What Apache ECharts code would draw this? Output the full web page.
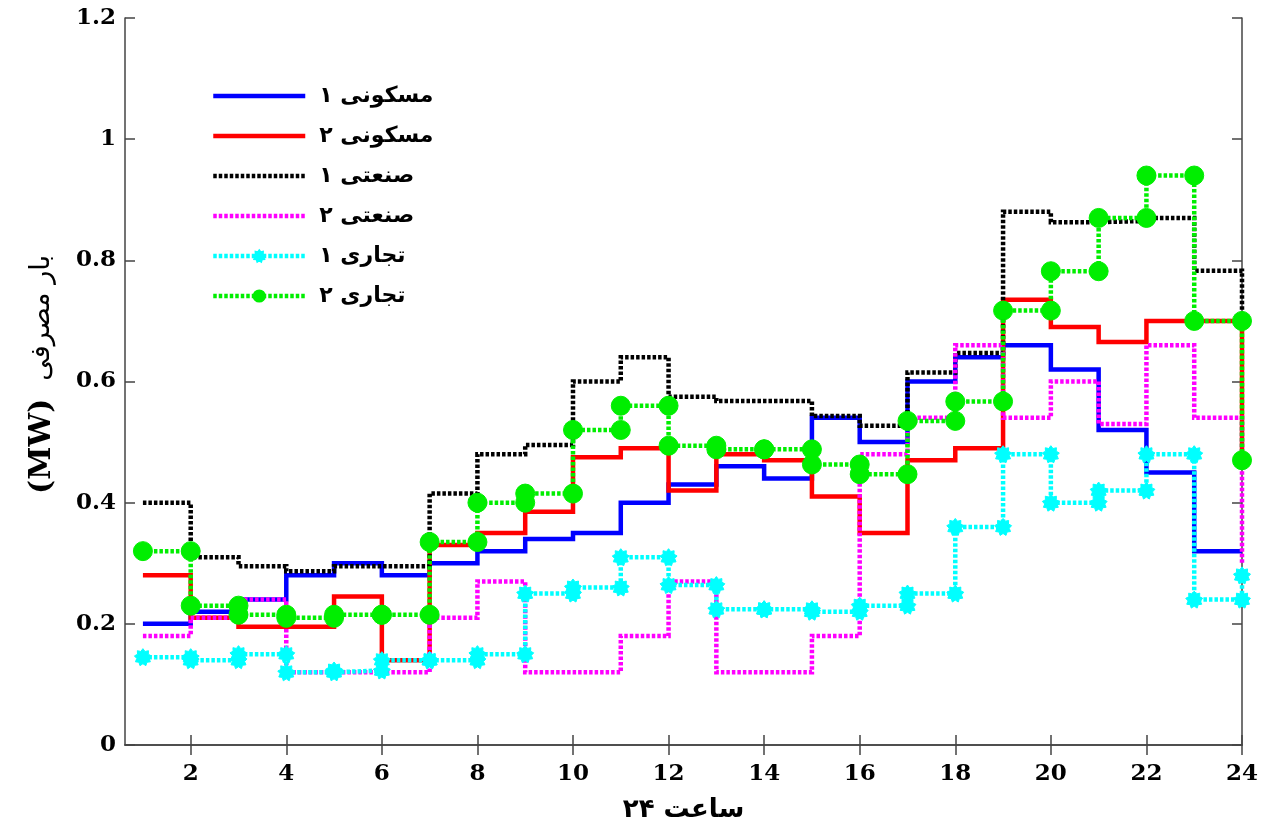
<!DOCTYPE html>
<html>
<head>
<meta charset="utf-8">
<script src="https://cdn.jsdelivr.net/npm/echarts@6/dist/echarts.min.js"></script>
<style>
html, body { margin: 0; padding: 0; background: #fff; }
#main { width: 1263px; height: 830px; }
</style>
</head>
<body>
<div id="main"></div>
<script>
var hours = [1, 2, 3, 4, 5, 6, 7, 8, 9, 10, 11, 12, 13, 14, 15, 16, 17, 18, 19, 20, 21, 22, 23, 24];
var xTicks = [2, 4, 6, 8, 10, 12, 14, 16, 18, 20, 22, 24];

var names = ['مسکونی ۱', 'مسکونی ۲', 'صنعتی ۱', 'صنعتی ۲', 'تجاری ۱', 'تجاری ۲'];

var res1 = [0.20, 0.22, 0.24, 0.28, 0.30, 0.28, 0.30, 0.32, 0.34, 0.35, 0.40, 0.43, 0.46, 0.44, 0.54, 0.50, 0.60, 0.64, 0.66, 0.62, 0.52, 0.45, 0.32, 0.32];
var res2 = [0.28, 0.21, 0.195, 0.195, 0.245, 0.14, 0.33, 0.35, 0.385, 0.475, 0.49, 0.42, 0.48, 0.47, 0.41, 0.35, 0.47, 0.49, 0.735, 0.69, 0.665, 0.70, 0.70, 0.47];
var ind1 = [0.40, 0.31, 0.295, 0.287, 0.295, 0.295, 0.415, 0.48, 0.495, 0.60, 0.64, 0.575, 0.568, 0.568, 0.543, 0.527, 0.615, 0.647, 0.88, 0.863, 0.865, 0.87, 0.783, 0.70];
var ind2 = [0.18, 0.21, 0.24, 0.12, 0.12, 0.12, 0.21, 0.27, 0.12, 0.12, 0.18, 0.27, 0.12, 0.12, 0.18, 0.48, 0.54, 0.66, 0.54, 0.60, 0.53, 0.66, 0.54, 0.30];
var com1 = [0.145, 0.14, 0.15, 0.12, 0.123, 0.14, 0.14, 0.15, 0.25, 0.26, 0.31, 0.264, 0.224, 0.224, 0.22, 0.23, 0.25, 0.36, 0.48, 0.40, 0.42, 0.48, 0.24, 0.28];
var com2 = [0.32, 0.23, 0.215, 0.21, 0.215, 0.215, 0.335, 0.40, 0.415, 0.52, 0.56, 0.494, 0.488, 0.488, 0.463, 0.447, 0.535, 0.567, 0.717, 0.782, 0.87, 0.94, 0.70, 0.47];

// stairs corners: value holds from hour i to hour i+1, every corner is a point
function stairs(vals) {
    var pts = [];
    for (var i = 0; i < vals.length; i++) {
        pts.push([hours[i], vals[i]]);
        if (i < vals.length - 1) pts.push([hours[i + 1], vals[i]]);
    }
    return pts;
}

// gear-like star marker
function starPath(n, r1, r2) {
    var d = '';
    for (var i = 0; i < n * 2; i++) {
        var r = i % 2 ? r2 : r1;
        var a = Math.PI * i / n - Math.PI / 2;
        d += (i ? 'L' : 'M') + (r * Math.cos(a)).toFixed(3) + ' ' + (r * Math.sin(a)).toFixed(3);
    }
    return 'path://' + d + 'Z';
}

var numFont = 'DejaVu Serif';
var faFont = 'DejaVu Sans';
var axisColor = '#444';

function mkSeries(name, vals, color, dotted, symbol, size) {
    return {
        name: name,
        type: 'line',
        data: stairs(vals),
        clip: false,
        symbol: symbol || 'none',
        symbolSize: size || 0,
        showSymbol: !!symbol,
        itemStyle: { color: color, borderColor: color, borderWidth: 1 },
        lineStyle: {
            color: color,
            width: 4.5,
            type: dotted ? [3.5, 2] : 'solid',
            cap: 'butt',
            join: 'miter'
        },
        emphasis: { disabled: true }
    };
}

// legend entries: plain lines get no marker
var legendData = names.map(function (n, i) {
    if (i < 4) return { name: n, itemStyle: { opacity: 0 } };
    return { name: n };
});

var myChart = echarts.init(document.getElementById('main'));

var option = {
    animation: false,
    backgroundColor: '#fff',
    grid: { left: 125, right: 21, top: 18, bottom: 85, outerBoundsMode: 'none' },
    legend: {
        orient: 'vertical',
        left: 206,
        top: 80,
        itemWidth: 92,
        itemHeight: 14,
        itemGap: 18,
        data: legendData,
        lineStyle: { width: 4.5 },
        textStyle: { fontFamily: faFont, fontWeight: 'bold', fontSize: 22, lineHeight: 16, color: '#000', padding: [0, 0, 0, 9] }
    },
    xAxis: [{
        type: 'value',
        min: 0.625,
        max: 24,
        name: 'ساعت ۲۴',
        nameLocation: 'middle',
        nameGap: 52,
        nameTextStyle: { fontFamily: faFont, fontWeight: 'bold', fontSize: 26, color: '#000' },
        axisLine: { show: true, lineStyle: { color: axisColor, width: 1.5 } },
        axisTick: { show: true, inside: true, length: 10, customValues: xTicks, lineStyle: { color: axisColor, width: 1.5 } },
        axisLabel: { customValues: xTicks, margin: 18, fontFamily: numFont, fontWeight: 'bold', fontSize: 23, color: '#000' },
        splitLine: { show: false }
    }, {
        type: 'value',
        position: 'top',
        min: 0.625,
        max: 24,
        axisLine: { show: true, lineStyle: { color: axisColor, width: 1.5 } },
        axisTick: { show: true, inside: true, length: 10, customValues: xTicks, lineStyle: { color: axisColor, width: 1.5 } },
        axisLabel: { show: false },
        splitLine: { show: false }
    }],
    yAxis: [{
        type: 'value',
        min: 0,
        max: 1.2,
        interval: 0.2,
        name: '{a|(MW)}{b|بار مصرفی}',
        nameLocation: 'middle',
        nameRotate: 90,
        nameGap: 68,
        nameTextStyle: {
            rich: {
                a: { fontFamily: numFont, fontWeight: 'bold', fontSize: 30, color: '#000', padding: [0, 18, 0, 14] },
                b: { fontFamily: faFont, fontSize: 27, color: '#000' }
            }
        },
        axisLine: { show: true, lineStyle: { color: axisColor, width: 1.5 } },
        axisTick: { show: true, inside: true, length: 10, lineStyle: { color: axisColor, width: 1.5 } },
        axisLabel: { margin: 9, fontFamily: numFont, fontWeight: 'bold', fontSize: 23, color: '#000' },
        splitLine: { show: false }
    }, {
        type: 'value',
        position: 'right',
        min: 0,
        max: 1.2,
        interval: 0.2,
        axisLine: { show: true, lineStyle: { color: axisColor, width: 1.5 } },
        axisTick: { show: true, inside: true, length: 10, lineStyle: { color: axisColor, width: 1.5 } },
        axisLabel: { show: false },
        splitLine: { show: false }
    }],
    series: [
        mkSeries(names[0], res1, '#0000ff', false),
        mkSeries(names[1], res2, '#ff0000', false),
        mkSeries(names[2], ind1, '#000000', true),
        mkSeries(names[3], ind2, '#ff00ff', true),
        mkSeries(names[4], com1, '#00ffff', true, starPath(9, 1, 0.72), 17),
        mkSeries(names[5], com2, '#00ee00', true, 'circle', 19)
    ]
};

myChart.setOption(option);
</script>
</body>
</html>
